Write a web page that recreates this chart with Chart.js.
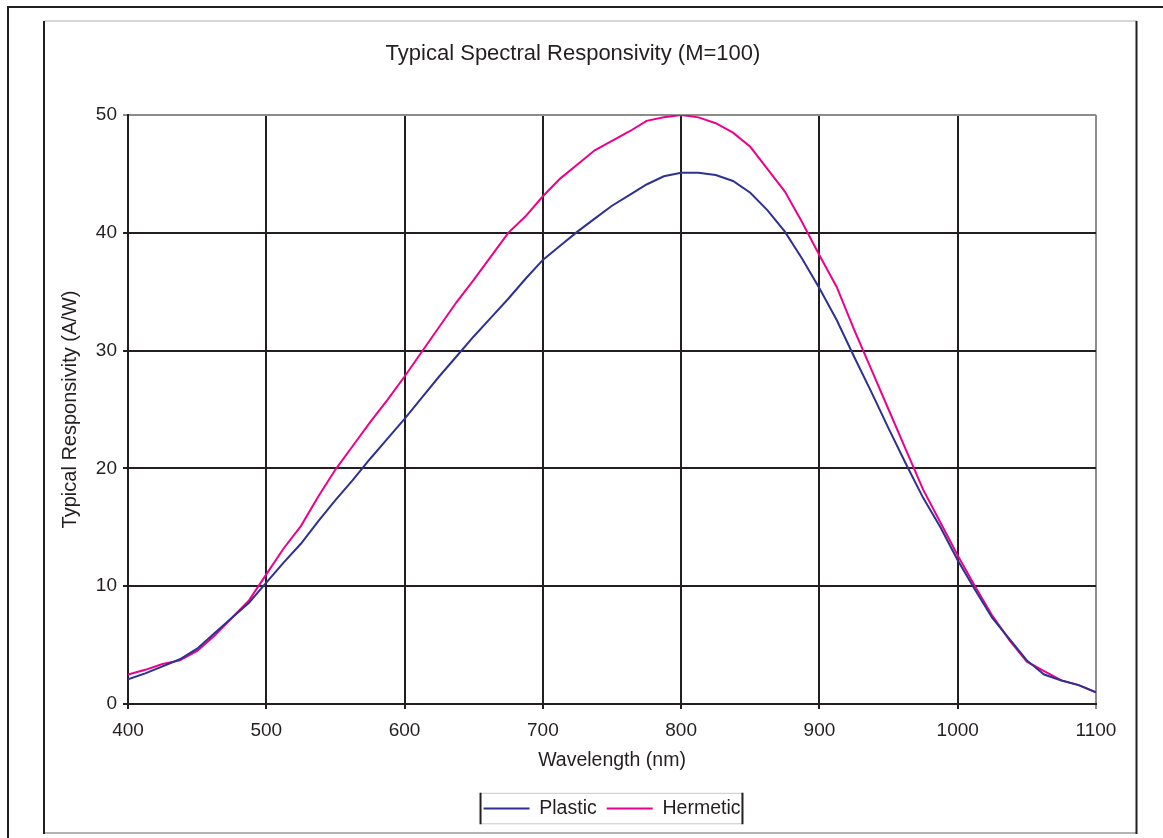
<!DOCTYPE html>
<html>
<head>
    <meta charset="UTF-8">
    <title>Typical Spectral Responsivity</title>
    <script src="https://cdn.jsdelivr.net/npm/chart.js"></script>
    <style>
        html, body { margin: 0; padding: 0; background: #fff; }
        canvas { display: block; }
    </style>
</head>
<body>
    <canvas id="myChart" width="1163" height="838"></canvas>
    <script>
        // wavelength (nm) of each read point
        const wavelengths = [400, 412.5, 425, 437.5, 450, 462.5, 475, 487.5, 500, 512.5, 525, 537.5,
            550, 562.5, 575, 587.5, 600, 612.5, 625, 637.5, 650, 662.5, 675, 687.5, 700, 712.5,
            725, 737.5, 750, 762.5, 775, 787.5, 800, 812.5, 825, 837.5, 850, 862.5, 875, 887.5,
            900, 912.5, 925, 937.5, 950, 962.5, 975, 987.5, 1000, 1012.5, 1025, 1037.5, 1050,
            1062.5, 1075, 1087.5, 1100];
        // responsivity (A/W)
        const plastic = [2.1, 2.6, 3.2, 3.8, 4.7, 6.0, 7.3, 8.6, 10.3, 12.0, 13.6, 15.5,
            17.3, 19.0, 20.8, 22.5, 24.2, 26.0, 27.8, 29.5, 31.2, 32.8, 34.4, 36.1, 37.7, 38.9,
            40.1, 41.2, 42.3, 43.2, 44.1, 44.8, 45.1, 45.1, 44.9, 44.4, 43.4, 41.9, 40.1, 37.8,
            35.3, 32.6, 29.5, 26.5, 23.4, 20.4, 17.5, 15.0, 12.2, 9.7, 7.3, 5.5, 3.7,
            2.5, 2.0, 1.6, 1.0];
        const hermetic = [2.5, 2.9, 3.4, 3.7, 4.5, 5.8, 7.3, 8.8, 11.0, 13.2, 15.1, 17.6,
            19.9, 21.9, 23.9, 25.8, 27.8, 29.9, 32.0, 34.1, 36.0, 38.0, 40.0, 41.4, 43.1, 44.6,
            45.8, 47.0, 47.8, 48.6, 49.5, 49.8, 50.0, 49.8, 49.3, 48.5, 47.3, 45.4, 43.5, 40.9,
            38.1, 35.4, 31.8, 28.4, 25.0, 21.6, 18.2, 15.4, 12.6, 10.0, 7.5, 5.4, 3.6,
            2.8, 2.0, 1.6, 1.0];
        const xMin = 400, xMax = 1100, xStep = 100;
        const yMin = 0, yMax = 50, yStep = 10;

        const ink = '#231f20';
        const edge = '#8c8c8c';
        const fontFamily = 'Arial, "Liberation Sans", sans-serif';

        function toPoints(ys) {
            return wavelengths.map((x, i) => ({ x: x, y: ys[i] }));
        }

        // page frames and the legend box, like the old spreadsheet export
        const frames = {
            id: 'frames',
            beforeDraw(chart) {
                const c = chart.ctx;
                const w = chart.width, h = chart.height;
                c.save();
                c.fillStyle = '#fff';
                c.fillRect(0, 0, w, h);
                c.lineWidth = 2;
                c.strokeStyle = ink;
                c.beginPath();
                c.moveTo(8, h); c.lineTo(8, 7); c.lineTo(w, 7);
                c.stroke();
                // inner box: light top/bottom, dark sides
                c.strokeStyle = '#c8c8c8';
                c.lineWidth = 1.5;
                c.beginPath();
                c.moveTo(44, 21); c.lineTo(1137, 21);
                c.stroke();
                c.strokeStyle = '#9a9a9a';
                c.beginPath();
                c.moveTo(44, 833); c.lineTo(1137, 833);
                c.stroke();
                c.strokeStyle = ink;
                c.lineWidth = 2;
                c.beginPath();
                c.moveTo(44, 21); c.lineTo(44, 834);
                c.moveTo(1136.5, 21); c.lineTo(1136.5, 834);
                c.stroke();
                c.restore();
            },
            afterDraw(chart) {
                const boxes = chart.legend.legendHitBoxes;
                if (!boxes || !boxes.length) return;
                const c = chart.ctx;
                const first = boxes[0], last = boxes[boxes.length - 1];
                const l = first.left - 3, r = last.left + last.width + 2;
                const t = first.top - 6, b = first.top + first.height + 6;
                c.save();
                c.lineWidth = 1;
                c.strokeStyle = '#c8c8c8';
                c.beginPath();
                c.moveTo(l, t + 0.5); c.lineTo(r, t + 0.5);
                c.moveTo(l, b - 0.5); c.lineTo(r, b - 0.5);
                c.stroke();
                c.lineWidth = 2;
                c.strokeStyle = ink;
                c.beginPath();
                c.moveTo(l, t); c.lineTo(l, b);
                c.moveTo(r, t); c.lineTo(r, b);
                c.stroke();
                c.restore();
            }
        };

        const ctx = document.getElementById('myChart').getContext('2d');
        const chart = new Chart(ctx, {
            type: 'line',
            data: {
                datasets: [
                    {
                        label: 'Plastic',
                        data: toPoints(plastic),
                        borderColor: '#2e3192',
                        backgroundColor: '#2e3192',
                        borderWidth: 2,
                        pointRadius: 0,
                        fill: false,
                        tension: 0
                    },
                    {
                        label: 'Hermetic',
                        data: toPoints(hermetic),
                        borderColor: '#ec008c',
                        backgroundColor: '#ec008c',
                        borderWidth: 2,
                        pointRadius: 0,
                        fill: false,
                        tension: 0
                    }
                ]
            },
            options: {
                responsive: false,
                animation: false,
                devicePixelRatio: 1,
                layout: {
                    padding: { left: 50, right: 67, top: 36, bottom: 9.7 }
                },
                plugins: {
                    title: {
                        display: true,
                        text: 'Typical Spectral Responsivity (M=100)',
                        color: ink,
                        font: { family: fontFamily, size: 22, weight: 'normal' },
                        padding: { top: 4.8, bottom: 47.8 }
                    },
                    legend: {
                        display: true,
                        position: 'bottom',
                        fullSize: false,
                        labels: {
                            color: ink,
                            font: { family: fontFamily, size: 19.5 },
                            usePointStyle: true,
                            pointStyle: 'line',
                            pointStyleWidth: 46,
                            padding: 10
                        }
                    },
                    tooltip: { enabled: false }
                },
                scales: {
                    x: {
                        type: 'linear',
                        min: xMin,
                        max: xMax,
                        afterFit: (s) => { s.height = 84.8; },
                        title: {
                            display: true,
                            text: 'Wavelength (nm)',
                            color: ink,
                            font: { family: fontFamily, size: 19.5 },
                            padding: { top: 0, bottom: 16.3 }
                        },
                        ticks: {
                            stepSize: xStep,
                            color: ink,
                            padding: 10,
                            maxRotation: 0,
                            font: { family: fontFamily, size: 19 },
                            callback: (v) => String(v)
                        },
                        grid: {
                            color: (c) => (c.tick && c.tick.value === xMax ? edge : ink),
                            lineWidth: 2,
                            tickLength: 5
                        },
                        border: { color: ink, width: 2 }
                    },
                    y: {
                        min: yMin,
                        max: yMax,
                        afterFit: (s) => { s.width = 78; },
                        title: {
                            display: true,
                            text: 'Typical Responsivity (A/W)',
                            color: ink,
                            font: { family: fontFamily, size: 20 },
                            padding: { top: 8, bottom: 0 }
                        },
                        ticks: {
                            stepSize: yStep,
                            color: ink,
                            padding: 6,
                            font: { family: fontFamily, size: 19 }
                        },
                        grid: {
                            color: (c) => (c.tick && c.tick.value === yMax ? edge : ink),
                            lineWidth: 2,
                            tickLength: 5
                        },
                        border: { color: ink, width: 2 }
                    }
                }
            },
            plugins: [frames]
        });
    </script>
</body>
</html>
